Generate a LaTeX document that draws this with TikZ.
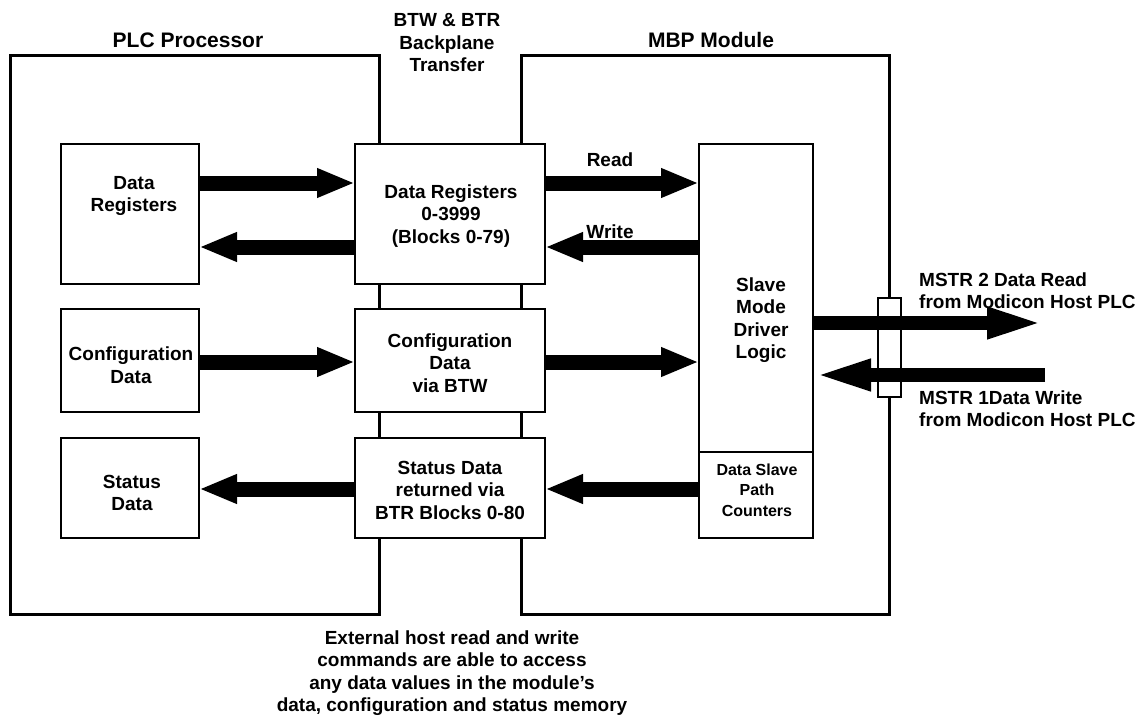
\documentclass[tikz,border=0pt]{standalone}
\usepackage{fontspec}
\setmainfont{Liberation Sans}
\usetikzlibrary{arrows.meta}
\begin{document}
\begin{tikzpicture}[x=1pt,y=-1pt,
  frame/.style={draw, line width=3pt, inner sep=0pt, outer sep=0pt},
  blk/.style={draw, line width=1.5pt, fill=white, inner sep=0pt, outer sep=0pt},
  txt/.style={font=\bfseries\fontsize{19}{22.5}\selectfont, align=center, inner sep=0pt},
  title/.style={font=\bfseries\fontsize{21}{24}\selectfont, align=center, inner sep=0pt},
  small/.style={font=\bfseries\fontsize{16}{20.5}\selectfont, align=center, inner sep=0pt},
  flow/.style={line width=15pt, -{Triangle[length=38pt,width=27pt]}},
  hostflow/.style={line width=14pt, -{Triangle[length=58pt,width=28pt]}}
]
\useasboundingbox (0,0) rectangle (1146,717);

% enclosures
\node[frame, minimum width=369pt, minimum height=558pt] (plc) at (194.5,335) {};
\node[frame, minimum width=368pt, minimum height=558pt] (mbp) at (705,335) {};
\node[title] (plct) at (188,40) {PLC Processor};
\node[title] (mbpt) at (711,40) {MBP Module};
\node[txt] (bpt) at (447,43) {BTW \& BTR\\Backplane\\Transfer};

% PLC side blocks
\node[blk, minimum width=138pt, minimum height=140pt] (dr) at (130,214) {};
\node[blk, minimum width=138pt, minimum height=103pt] (cd) at (130,360.5) {};
\node[blk, minimum width=138pt, minimum height=100pt] (sd) at (130,488) {};
\node[txt] (drt) at (134,196) {Data\\Registers};
\node[txt] (cdt) at (131,365) {Configuration\\Data};
\node[txt] (sdt) at (132,493) {Status\\Data};

% backplane blocks
\node[blk, minimum width=190pt, minimum height=140pt] (m1) at (450,214) {};
\node[blk, minimum width=190pt, minimum height=103pt] (m2) at (450,360.5) {};
\node[blk, minimum width=190pt, minimum height=100pt] (m3) at (450,488) {};
\node[txt] (m1t) at (451,216) {Data Registers\\0-3999\\(Blocks 0-79)};
\node[txt] (m2t) at (450,363) {Configuration\\Data\\via BTW};
\node[txt] (m3t) at (450,490) {Status Data\\returned via\\BTR Blocks 0-80};

% module blocks
\node[blk, minimum width=114pt, minimum height=308pt] (slave) at (756,298) {};
\node[blk, minimum width=114pt, minimum height=86pt] (ctr) at (756,495) {};
\node[txt] (slavet) at (761,320) {Slave\\Mode\\Driver\\Logic};
\node[small] (ctrt) at (757,490) {Data Slave\\Path\\Counters};

% host port on the module edge
\node[blk, minimum width=23pt, minimum height=99pt] (port) at (889.5,347.5) {};

% transfers between processor and backplane
\coordinate (a1) at ([yshift=31pt]dr.east);
\coordinate (a2) at ([yshift=-33pt]m1.west);
\coordinate (a3) at ([yshift=-1.5pt]cd.east);
\coordinate (a4) at ([yshift=-1pt]m3.west);
\draw[flow] (a1) -- (a1 -| m1.west);
\draw[flow] (a2) -- (a2 -| dr.east);
\draw[flow] (a3) -- (a3 -| m2.west);
\draw[flow] (a4) -- (a4 -| sd.east);

% transfers between backplane and driver
\coordinate (b1) at ([yshift=31pt]m1.east);
\coordinate (b2) at ([yshift=-33pt]m1.east);
\coordinate (b3) at ([yshift=-1.5pt]m2.east);
\coordinate (b4) at ([yshift=-1pt]m3.east);
\draw[flow] (b1) -- (b1 -| slave.west);
\draw[flow] (b2 -| slave.west) -- (b2);
\draw[flow] (b3) -- (b3 -| slave.west);
\draw[flow] (b4 -| ctr.west) -- (b4);
\node[txt] (readt) at (610,160) {Read};
\node[txt] (writet) at (610,232) {Write};

% external host traffic
\coordinate (out2) at (1045,323);
\coordinate (in1) at (1045,375);
\draw[hostflow] (out2 -| slave.east) -- (out2);
\draw[hostflow] (in1) -- (in1 -| slave.east);
\node[txt, anchor=west, align=left] (mstr2) at (919,290.5) {MSTR 2 Data Read\\from Modicon Host PLC};
\node[txt, anchor=west, align=left] (mstr1) at (919,408.5) {MSTR 1Data Write\\from Modicon Host PLC};

% note
\node[txt] (note) at (452,673) {External host read and write\\commands are able to access\\any data values in the module’s\\data, configuration and status memory};
\end{tikzpicture}
\end{document}
